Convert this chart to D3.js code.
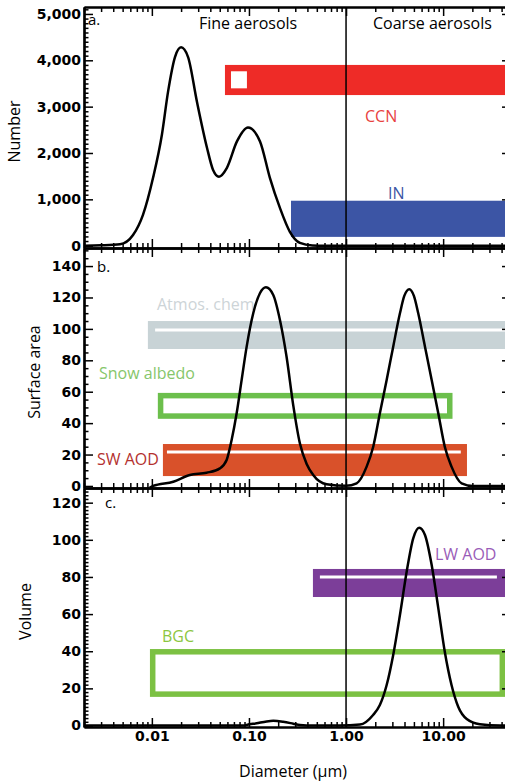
<!DOCTYPE html>
<html>
<head>
<meta charset="utf-8">
<title>Aerosol size distributions</title>
<style>
  body { margin: 0; background: #fff; }
  text { font-family: 'Open Sans', sans-serif; }
  .tick text { font-family: 'DejaVu Sans', sans-serif; font-weight: bold; font-size: 14px; fill: #000; }
</style>
<script src="https://d3js.org/d3.v7.min.js"></script>
</head>
<body>
<div id="container"></div>
<script>
// ******* Data *******
const xTicks = [0.01, 0.1, 1, 10];
const xTickLabels = ["0.01", "0.10", "1.00", "10.00"];
const numberTicks = [0, 1000, 2000, 3000, 4000, 5000];
const surfaceTicks = [0, 20, 40, 60, 80, 100, 120, 140];
const volumeTicks = [0, 20, 40, 60, 80, 100, 120];

// diameter (um), value
const numberCurve = [
  [0.002, 0], [0.003, 8], [0.0047, 30], [0.0064, 230], [0.0081, 665], [0.0103, 1470],
  [0.0127, 2400], [0.0147, 3330], [0.0173, 4070], [0.0200, 4280], [0.0236, 4070],
  [0.0291, 3110], [0.0369, 2120], [0.0426, 1640], [0.0491, 1490], [0.0593, 1680],
  [0.0752, 2250], [0.0977, 2550], [0.130, 2250], [0.164, 1470], [0.208, 820],
  [0.264, 300], [0.335, 60], [0.45, 5], [0.6, 0], [50, 0]
];
const surfaceCurve = [
  [0.0095, -1], [0.0103, 0], [0.0166, 2.7], [0.0246, 7.0], [0.0366, 8.4], [0.0502, 11.2],
  [0.0589, 16.5], [0.0663, 29.3], [0.0747, 46.3], [0.0841, 67.5], [0.0947, 88.7],
  [0.1107, 110], [0.1297, 122.7], [0.1496, 126.5], [0.178, 121.6], [0.2085, 105.7],
  [0.244, 82.3], [0.2857, 51.5], [0.335, 27], [0.393, 14], [0.459, 7], [0.631, 1.1],
  [1.0, 0.1], [1.285, 1.7], [1.63, 12.3], [1.905, 25], [2.23, 46.3], [2.62, 67.5],
  [3.06, 88.7], [3.59, 109.9], [3.98, 121], [4.48, 125.3], [5.0, 121], [5.54, 109.9],
  [6.50, 88.7], [7.62, 67.5], [8.91, 46.3], [10.4, 25], [12.2, 12.3], [15.5, 1.7],
  [20.4, 0], [50, 0]
];
const volumeCurve = [
  [0.002, 0], [0.09, 0], [0.0946, 0.3], [0.120, 1.2], [0.152, 2.2], [0.178, 2.5],
  [0.225, 2.0], [0.286, 1.0], [0.335, 0.3], [0.456, 0], [0.865, 0], [1.39, 0.5],
  [1.90, 5.7], [2.23, 11], [2.62, 21.8], [3.06, 38], [3.59, 59.5], [4.21, 82.8],
  [4.92, 100.8], [5.67, 106.5], [6.50, 102.6], [7.62, 86.4], [8.92, 63.1], [10.4, 39.7],
  [12.2, 21.8], [14.3, 10.1], [17.5, 3.5], [23.9, 0.7], [38.5, 0], [50, 0]
];

// application ranges (diameter and value extents)
const bandNames = ["CCN", "IN", "Atmos. chem", "Snow albedo", "SW AOD", "LW AOD", "BGC"];
const bandPanel = ["a", "a", "b", "b", "b", "c", "c"];
const bandXMin = [0.0566, 0.271, 0.0091, 0.0123, 0.0130, 0.456, 0.0102];
const bandXMax = [60, 60, 60, 11.7, 17.6, 60, 40.7];
const bandYMin = [3250, 190, 87.2, 44.5, 6.3, 69.2, 16.9];
const bandYMax = [3900, 970, 105, 57.5, 26.7, 84.3, 39.7];
// white centre lines: [band, xmin, xmax, value]
const bandLines = [
  ["Atmos. chem", 0.0108, 60, 99.3],
  ["SW AOD", 0.0143, 15.2, 21.6],
  ["LW AOD", 0.538, 35.8, 80]
];
// white marker inside CCN bar: xmin, xmax, ymin, ymax
const ccnMarker = [0.0653, 0.0953, 3395, 3763];

// ******* Styles *******
const bandStyle = {
  "CCN":         {fill: "#ee2b27", text: "#e8423f"},
  "IN":          {fill: "#3c55a5", text: "#3a54a4"},
  "Atmos. chem": {fill: "#c8d3d6", text: "#cdd4d7"},
  "Snow albedo": {stroke: "#6cbf4c", text: "#86c66b"},
  "SW AOD":      {fill: "#d9512a", text: "#b3312f"},
  "LW AOD":      {fill: "#7c3e99", text: "#9a5cb8"},
  "BGC":         {stroke: "#7cc143", text: "#8cc63f"}
};
const labelPos = {
  "CCN": [365, 122], "IN": [388, 199], "Atmos. chem": [157, 310],
  "Snow albedo": [99, 379], "SW AOD": [97, 465], "LW AOD": [435, 560], "BGC": [162, 642]
};

// ******* Layout *******
const width = 505, height = 784;
const left = 84, right = 511;

const x = d3.scaleLog().domain([0.002, 50]).range([left, right]);

const panels = [
  {key: "a", top: 7, bottom: 248, domain: [-50, 5150], ticks: numberTicks, minor: 100,
   curve: numberCurve, title: "Number", titleX: 14, fmt: d3.format(",")},
  {key: "b", top: 248, bottom: 488, domain: [-1.3, 151.5], ticks: surfaceTicks, minor: 5,
   curve: surfaceCurve, title: "Surface area", titleX: 34, fmt: d3.format("d")},
  {key: "c", top: 488, bottom: 727, domain: [-0.8, 127.9], ticks: volumeTicks, minor: 2,
   curve: volumeCurve, title: "Volume", titleX: 25, fmt: d3.format("d")}
];
panels.forEach(p => { p.y = d3.scaleLinear().domain(p.domain).range([p.bottom, p.top]); });

const minorX = [];
[0.001, 0.01, 0.1, 1, 10].forEach(dec => {
  for (let m = 2; m <= 9; m++) {
    const v = dec * m;
    if (v >= 0.002 && v <= 50) minorX.push(v);
  }
});

// ******* SVG *******
const svg = d3.select("#container").append("svg")
    .attr("width", width)
    .attr("height", height)
    .style("display", "block");

const line = d3.line()
    .x(d => x(d[0]))
    .curve(d3.curveMonotoneX);

panels.forEach(p => {
  const g = svg.append("g");
  const y = p.y;

  // bands
  bandNames.forEach((name, i) => {
    if (bandPanel[i] !== p.key) return;
    const st = bandStyle[name];
    const r = g.append("rect")
        .attr("x", x(bandXMin[i]))
        .attr("y", y(bandYMax[i]))
        .attr("width", x(bandXMax[i]) - x(bandXMin[i]))
        .attr("height", y(bandYMin[i]) - y(bandYMax[i]));
    if (st.fill) r.attr("fill", st.fill);
    else r.attr("fill", "none").attr("stroke", st.stroke).attr("stroke-width", 5.5);

    g.append("text")
        .attr("x", labelPos[name][0])
        .attr("y", labelPos[name][1])
        .attr("fill", st.text)
        .style("font-size", "16px")
        .text(name);
  });

  bandLines.forEach(b => {
    const i = bandNames.indexOf(b[0]);
    if (bandPanel[i] !== p.key) return;
    g.append("line")
        .attr("x1", x(b[1])).attr("x2", x(b[2]))
        .attr("y1", y(b[3])).attr("y2", y(b[3]))
        .attr("stroke", "#fff").attr("stroke-width", 3);
  });

  if (p.key === "a") {
    g.append("rect")
        .attr("x", x(ccnMarker[0]))
        .attr("y", y(ccnMarker[3]))
        .attr("width", x(ccnMarker[1]) - x(ccnMarker[0]))
        .attr("height", y(ccnMarker[2]) - y(ccnMarker[3]))
        .attr("fill", "#fff");
  }

  // curve
  g.append("path")
      .datum(p.curve)
      .attr("d", line.y(d => y(d[1])))
      .attr("fill", "none")
      .attr("stroke", "#000")
      .attr("stroke-width", 2.5);

  // y axes
  const minorY = d3.range(0, p.domain[1], p.minor).filter(v => p.ticks.indexOf(v) < 0);
  g.append("g")
      .attr("transform", `translate(${left},0)`)
      .call(d3.axisLeft(y).tickValues(minorY).tickSize(-4.5).tickSizeOuter(0).tickFormat(""));
  g.append("g")
      .attr("transform", `translate(${left},0)`)
      .call(d3.axisLeft(y).tickValues(p.ticks).tickSize(-9).tickSizeOuter(0).tickPadding(3).tickFormat(p.fmt));
  g.append("g")
      .attr("transform", `translate(${right},0)`)
      .call(d3.axisRight(y).tickValues(p.ticks).tickSize(-9).tickSizeOuter(0).tickFormat(""));

  // x axes (top and bottom of each panel)
  [["bottom", p.bottom], ["top", p.top]].forEach(([side, yy]) => {
    const ax = side === "bottom" ? d3.axisBottom(x) : d3.axisTop(x);
    g.append("g")
        .attr("transform", `translate(0,${yy})`)
        .call(ax.tickValues(minorX).tickSize(-5).tickSizeOuter(0).tickFormat(""));
    const showLabels = side === "bottom" && p.key === "c";
    const ax2 = side === "bottom" ? d3.axisBottom(x) : d3.axisTop(x);
    g.append("g")
        .attr("transform", `translate(0,${yy})`)
        .call(ax2.tickValues(xTicks).tickSize(-9).tickSizeOuter(0).tickPadding(4)
          .tickFormat((d, i) => showLabels ? xTickLabels[i] : ""));
  });

  // axis title
  svg.append("text")
      .attr("transform", `translate(${p.titleX},${(p.top + p.bottom) / 2 + 4}) rotate(-90)`)
      .attr("text-anchor", "middle")
      .attr("dy", "0.35em")
      .style("font-size", "16px")
      .text(p.title);
});

svg.selectAll(".domain").attr("stroke-width", 2.2);
svg.selectAll(".tick line").attr("stroke-width", 1.5);

// divider between fine and coarse aerosols
svg.append("line")
    .attr("x1", x(1)).attr("x2", x(1))
    .attr("y1", 7).attr("y2", 727)
    .attr("stroke", "#000").attr("stroke-width", 1.5);

// panel letters and region labels
const notes = [["a.", 88, 25], ["b.", 97, 272], ["c.", 105, 508],
               ["Fine aerosols", 199, 29], ["Coarse aerosols", 373, 29]];
svg.selectAll(".note").data(notes).enter().append("text")
    .attr("class", "note")
    .attr("x", d => d[1])
    .attr("y", d => d[2])
    .style("font-size", d => d[0].length > 2 ? "16px" : "15px")
    .text(d => d[0]);

svg.append("text")
    .attr("x", 293)
    .attr("y", 777)
    .attr("text-anchor", "middle")
    .style("font-size", "16px")
    .text("Diameter (\u00b5m)");
</script>
</body>
</html>
